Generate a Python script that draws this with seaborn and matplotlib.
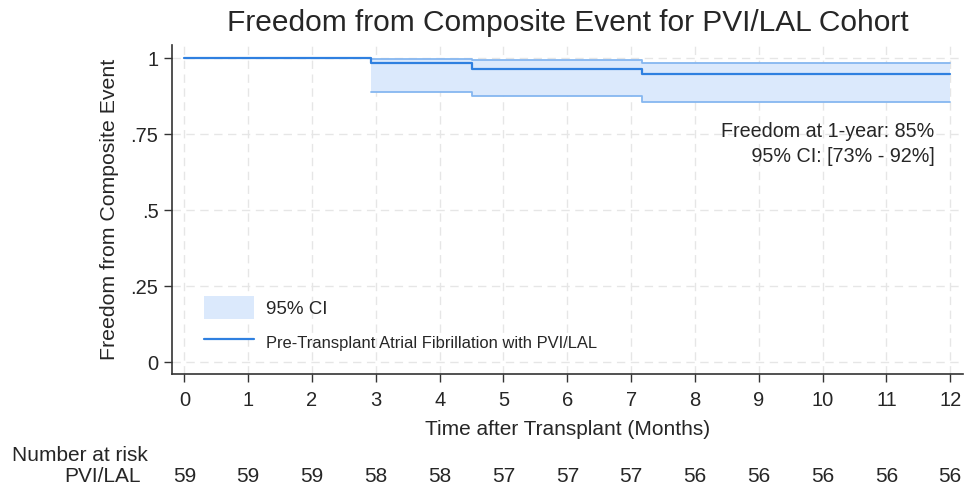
import numpy as np
import pandas as pd
import seaborn as sns
import matplotlib.pyplot as plt
import matplotlib.transforms as mtrans
from matplotlib.patches import Patch
from matplotlib.lines import Line2D

# KM estimate
times = [0, 2.92, 4.5, 7.17, 12]
surv = [1.0, 0.983, 0.966, 0.949, 0.949]
ci_times = [2.92, 4.5, 7.17, 12]
ci_upper = [0.998, 0.993, 0.985, 0.985]
ci_lower = [0.889, 0.875, 0.855, 0.855]

tick_months = list(range(13))
at_risk = [59, 59, 59, 58, 58, 57, 57, 57, 56, 56, 56, 56, 56]

line_col = "#2f80e0"
fill_col = "#dbe9fc"
edge_col = "#86b7f0"

sns.set_style("white")
plt.rcParams["font.family"] = ["Liberation Sans", "DejaVu Sans"]

df = pd.DataFrame({"t": times, "s": surv})

fig = plt.figure(figsize=(9.64, 4.86), dpi=100)
ax = fig.add_axes([0.178, 0.230, 0.821, 0.677])

# confidence band
ax.fill_between(ci_times, ci_lower, ci_upper, step="post", color=fill_col, lw=0)
ax.step(ci_times, ci_upper, where="post", color=edge_col, lw=1.3)
ax.step(ci_times, ci_lower, where="post", color=edge_col, lw=1.3)

sns.lineplot(data=df, x="t", y="s", drawstyle="steps-post", color=line_col, lw=1.6, ax=ax)

ax.set_xlim(-0.2, 12.2)
ax.set_ylim(-0.04, 1.043)
ax.set_xticks(tick_months)
ax.set_yticks([0, 0.25, 0.5, 0.75, 1])
ax.set_yticklabels(["0", ".25", ".5", ".75", "1"])
ax.grid(True, color="#e6e6e6", ls=(0, (6, 4)), lw=1)
for s in ["top", "right"]:
    ax.spines[s].set_visible(False)
for s in ["left", "bottom"]:
    ax.spines[s].set_color("#333333")
    ax.spines[s].set_linewidth(1.2)
ax.tick_params(axis="both", direction="out", length=6, width=1, color="#333333",
               labelsize=14.5, bottom=True, left=True)
ax.tick_params(axis="x", pad=6)

ax.set_xlabel("Time after Transplant (Months)", fontsize=15, labelpad=7)
ax.set_ylabel("Freedom from Composite Event", fontsize=15.3, labelpad=8)
ax.set_title("Freedom from Composite Event for PVI/LAL Cohort", fontsize=21.5, pad=10)

ax.text(11.75, 0.79, "Freedom at 1-year: 85%\n 95% CI: [73% - 92%]",
        ha="right", va="top", fontsize=14.2, linespacing=1.37)

handles = [Patch(facecolor=fill_col, edgecolor="none"),
           Line2D([0], [0], color=line_col, lw=1.6)]
leg = ax.legend(handles, ["95% CI", "Pre-Transplant Atrial Fibrillation with PVI/LAL"],
                loc="lower left", bbox_to_anchor=(0.02, 0.012), frameon=False,
                handlelength=2.67, handleheight=1.5, handletextpad=0.64,
                labelspacing=0.6, fontsize=13.5)
leg.get_texts()[1].set_fontsize(11.9)

# number at risk table
tr = mtrans.blended_transform_factory(ax.transData, fig.transFigure)
fig.text(12 / 964, 1 - 455 / 486, "Number at risk", fontsize=15, va="center", ha="left")
fig.text(141 / 964, 1 - 476 / 486, "PVI/LAL", fontsize=15, va="center", ha="right")
for m, n in zip(tick_months, at_risk):
    ax.text(m, 1 - 476 / 486, str(n), transform=tr, ha="center", va="center", fontsize=15)

fig.savefig("out.png", dpi=100)
